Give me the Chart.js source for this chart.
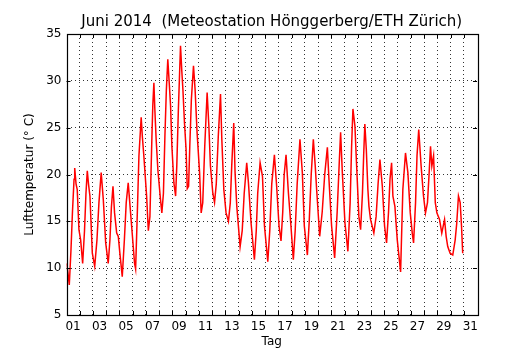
<!DOCTYPE html>
<html>
<head>
<meta charset="utf-8">
<script src="https://cdn.jsdelivr.net/npm/chart.js@4/dist/chart.umd.min.js"></script>
<style>
  html, body { margin: 0; padding: 0; background: #fff; }
  #wrap { width: 530px; height: 350px; }
</style>
</head>
<body>
<div id="wrap"><canvas id="chart" width="530" height="350"></canvas></div>
<script>
// time in days since 1 June 00:00, temperature in deg C
const times = [
  0.02, 0.11, 0.21, 0.34, 0.45, 0.57, 0.62, 0.72, 0.81, 0.94,
  1.07, 1.22, 1.36, 1.47, 1.57, 1.66, 1.77, 1.95, 2.13, 2.30,
  2.45, 2.62, 2.78, 2.96, 3.15, 3.28, 3.39, 3.51, 3.63, 3.79,
  3.91, 4.03, 4.21, 4.37, 4.51, 4.66, 4.84, 4.96, 5.14, 5.22,
  5.35, 5.47, 5.64, 5.73, 5.84, 6.05, 6.18, 6.30, 6.45, 6.52,
  6.60, 6.67, 6.77, 6.90, 7.10, 7.20, 7.32, 7.43, 7.54, 7.65,
  7.77, 7.86, 7.96, 8.11, 8.24, 8.33, 8.45, 8.61, 8.71, 8.79,
  8.91, 9.03, 9.12, 9.22, 9.31, 9.43, 9.59, 9.71, 9.86, 10.05,
  10.17, 10.29, 10.44, 10.62, 10.75, 10.87, 11.05, 11.18, 11.31, 11.46,
  11.63, 11.73, 11.88, 12.05, 12.23, 12.37, 12.48, 12.63, 12.73, 12.86,
  13.11, 13.27, 13.42, 13.61, 13.74, 13.94, 14.19, 14.33, 14.44, 14.62,
  14.80, 14.95, 15.20, 15.35, 15.50, 15.70, 15.87, 16.05, 16.20, 16.33,
  16.44, 16.58, 16.76, 16.95, 17.13, 17.27, 17.42, 17.63, 17.81, 17.96,
  18.19, 18.33, 18.48, 18.64, 18.78, 18.89, 19.00, 19.12, 19.31, 19.50,
  19.70, 19.82, 20.02, 20.25, 20.44, 20.59, 20.70, 20.83, 21.03, 21.25,
  21.42, 21.53, 21.63, 21.78, 21.91, 22.08, 22.21, 22.35, 22.44, 22.53,
  22.64, 22.76, 22.84, 22.96, 23.21, 23.38, 23.53, 23.67, 23.85, 24.02,
  24.17, 24.32, 24.43, 24.55, 24.65, 24.80, 24.98, 25.23, 25.40, 25.60,
  25.78, 25.96, 26.11, 26.21, 26.36, 26.47, 26.60, 26.78, 26.96, 27.11,
  27.26, 27.38, 27.49, 27.59, 27.72, 27.85, 27.97, 28.17, 28.34, 28.55,
  28.67, 28.79, 28.97, 29.17, 29.35, 29.47, 29.60, 29.73, 29.83, 29.92
];
const temps = [
  10.5, 9.5, 8.2, 12.0, 16.0, 19.5, 20.7, 19.0, 18.4, 14.1,
  13.0, 10.5, 14.0, 18.0, 20.4, 19.0, 17.7, 11.6, 10.2, 13.0,
  17.0, 20.2, 17.3, 12.7, 10.5, 13.0, 16.5, 18.75, 15.9, 13.75,
  13.4, 11.6, 9.1, 13.0, 17.0, 19.1, 15.9, 13.75, 10.5, 9.9,
  16.0, 22.0, 26.1, 24.0, 22.0, 17.7, 14.0, 15.5, 24.0, 27.5,
  29.8, 27.0, 23.75, 20.5, 17.3, 15.9, 18.0, 24.0, 29.0, 32.3,
  29.5, 27.3, 23.0, 19.1, 17.7, 21.0, 27.0, 33.75, 31.0, 29.1,
  25.5, 22.7, 18.5, 18.75, 23.0, 28.0, 31.6, 29.1, 24.5, 20.2,
  15.9, 17.0, 23.0, 28.75, 25.2, 20.9, 18.0, 17.0, 19.0, 24.0,
  28.6, 23.75, 18.4, 15.9, 15.0, 17.0, 21.0, 25.5, 20.2, 16.6,
  12.3, 14.0, 18.0, 21.25, 19.1, 14.8, 10.9, 14.0, 18.0, 21.25,
  19.8, 14.5, 10.7, 14.0, 19.0, 22.1, 18.75, 14.5, 12.9, 16.0,
  20.0, 22.1, 18.0, 14.5, 10.9, 14.0, 19.0, 23.75, 20.2, 14.5,
  11.4, 15.0, 20.0, 23.75, 21.0, 18.4, 16.0, 13.4, 16.0, 20.0,
  22.9, 19.5, 14.5, 11.1, 16.0, 21.0, 24.5, 20.2, 14.8, 11.8,
  17.0, 23.0, 27.0, 25.2, 20.9, 15.5, 14.1, 18.0, 22.0, 25.4,
  22.7, 18.4, 16.6, 15.2, 13.75, 15.5, 19.0, 21.6, 18.75, 14.5,
  12.7, 16.0, 19.5, 21.25, 17.7, 16.6, 13.0, 9.6, 18.4, 22.3,
  20.2, 15.9, 13.75, 12.7, 17.0, 22.0, 24.8, 20.9, 17.7, 15.9,
  17.0, 20.0, 23.0, 20.9, 22.0, 17.0, 15.9, 15.2, 13.75, 15.2,
  13.4, 12.3, 11.6, 11.4, 13.0, 14.8, 17.7, 17.0, 14.5, 11.6
];
// grid at midnight of every day, labels (every 2nd day) shifted to noon
const dayLines = [];
for (let d = 0; d <= 31; d++) dayLines.push(d);
const dayLabels = ['01', '03', '05', '07', '09', '11', '13', '15',
                   '17', '19', '21', '23', '25', '27', '29', '31'];
const yTicks = [5, 10, 15, 20, 25, 30, 35];

const FONT = 'DejaVu Sans';
const gridColor = 'rgba(0,0,0,0.8)';
const clear = 'rgba(0,0,0,0)';

const frame = {
  id: 'frame',
  afterDraw(chart) {
    const { ctx, chartArea: a, scales } = chart;
    ctx.save();
    ctx.strokeStyle = '#000';
    ctx.lineWidth = 1;
    ctx.beginPath();
    // inward tick marks like matplotlib
    dayLines.forEach(d => {
      if (d <= 0 || d >= 31) return;
      const x = Math.round(scales.x.getPixelForValue(d)) + 0.5;
      ctx.moveTo(x, a.bottom); ctx.lineTo(x, a.bottom - 4);
      ctx.moveTo(x, a.top); ctx.lineTo(x, a.top + 4);
    });
    yTicks.forEach(v => {
      if (v <= 5 || v >= 35) return;
      const y = Math.round(scales.y.getPixelForValue(v)) + 0.5;
      ctx.moveTo(a.left, y); ctx.lineTo(a.left + 4, y);
      ctx.moveTo(a.right, y); ctx.lineTo(a.right - 4, y);
    });
    ctx.stroke();
    ctx.lineWidth = 1.2;
    ctx.strokeRect(Math.round(a.left) + 0.5, Math.round(a.top) + 0.5,
                   Math.round(a.right - a.left), Math.round(a.bottom - a.top));
    ctx.restore();
  }
};

new Chart(document.getElementById('chart'), {
  type: 'line',
  data: {
    datasets: [{
      data: times.map((t, i) => ({ x: t, y: temps[i] })),
      borderColor: '#ff0000',
      borderWidth: 1.5,
      pointRadius: 0,
      tension: 0,
      fill: false
    }]
  },
  options: {
    responsive: false,
    animation: false,
    layout: { padding: { left: 0, right: 53, top: 0, bottom: 0 } },
    plugins: {
      legend: { display: false },
      tooltip: { enabled: false },
      title: {
        display: true,
        fullSize: false,
        text: 'Juni 2014  (Meteostation Hönggerberg/ETH Zürich)',
        color: '#000',
        font: { family: FONT, size: 15, weight: 'normal' },
        padding: { top: 13, bottom: 3 }
      }
    },
    scales: {
      x: {
        type: 'linear',
        min: 0,
        max: 31,
        afterBuildTicks: s => { s.ticks = dayLines.map(v => ({ value: v })); },
        afterFit: s => { s.height = 35; },
        ticks: {
          autoSkip: false,
          maxRotation: 0,
          padding: 5,
          labelOffset: 6.6,
          color: '#000',
          font: { family: FONT, size: 12 },
          callback: v => (v % 2 === 0 && v < 31) ? dayLabels[v / 2] : ''
        },
        grid: {
          drawTicks: false,
          lineWidth: 1,
          color: c => (c.tick && c.tick.value > 0 && c.tick.value < 31) ? gridColor : clear
        },
        border: { display: false, dash: [1, 3] },
        title: {
          display: true,
          text: 'Tag',
          color: '#000',
          font: { family: FONT, size: 12 },
          padding: { top: 0, bottom: 1 }
        }
      },
      y: {
        min: 5,
        max: 35,
        afterBuildTicks: s => { s.ticks = yTicks.map(v => ({ value: v })); },
        afterFit: s => { s.width = 66.5; },
        ticks: {
          padding: 5,
          color: '#000',
          font: { family: FONT, size: 12 }
        },
        grid: {
          drawTicks: false,
          lineWidth: 1,
          color: c => (c.tick && c.tick.value > 5 && c.tick.value < 35) ? gridColor : clear
        },
        border: { display: false, dash: [1, 3] },
        title: {
          display: true,
          text: 'Lufttemperatur (° C)',
          color: '#000',
          font: { family: FONT, size: 12 },
          padding: { top: 23, bottom: 0 }
        }
      }
    }
  },
  plugins: [frame]
});
</script>
</body>
</html>
